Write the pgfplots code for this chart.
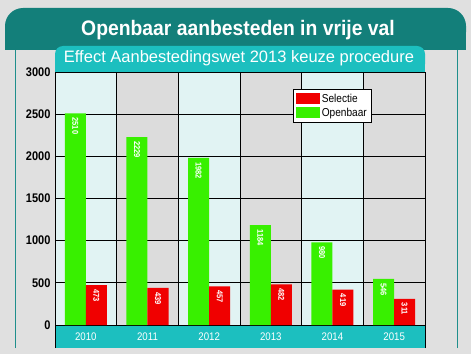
\documentclass[border=0pt]{standalone}
\usepackage{pgfplots}
\pgfplotsset{compat=1.18}
\usepackage{fontspec}
\setmainfont{Liberation Sans}
\newfontfamily\titlefont{Liberation Sans}[FakeStretch=0.92]
\newfontfamily\condfont{Liberation Sans}[FakeStretch=0.88]
\definecolor{bggray}{HTML}{E0E0E0}
\definecolor{dteal}{HTML}{137F7A}
\definecolor{cteal}{HTML}{1CBFBF}
\definecolor{lineteal}{HTML}{1F8F8C}
\definecolor{colA}{HTML}{E1F3F3}
\definecolor{colB}{HTML}{DCDCDC}
\definecolor{bgreen}{HTML}{38F000}
\definecolor{bred}{HTML}{F00000}
\begin{document}
\begin{tikzpicture}[x=1pt,y=1pt]
\fill[bggray] (0,0) rectangle (471,354);
\fill[dteal, rounded corners=18pt] (5,304) rectangle (466,346);
\fill[dteal] (5,304) rectangle (466,325);
\draw[lineteal, line width=1pt] (15,6) -- (15,304);
\draw[lineteal, line width=1pt] (457,6) -- (457,304);
\fill[cteal, rounded corners=8pt] (55,282) rectangle (425,308);
\fill[cteal] (55,282) rectangle (425,296);
\node[white, inner sep=0pt] at (238,324) {\titlefont\bfseries\fontsize{21}{21}\selectfont Openbaar aanbesteden in vrije val};
\node[white, inner sep=0pt] at (239,296) {\fontsize{16.5}{16.5}\selectfont Effect Aanbestedingswet 2013 keuze procedure};
\foreach \i in {0,2,4} {\fill[colA] ({55+61.667*\i},29) rectangle ({55+61.667*(\i+1)},282);}
\foreach \i in {1,3,5} {\fill[colB] ({55+61.667*\i},29) rectangle ({55+61.667*(\i+1)},282);}
\fill[cteal] (55,6) rectangle (425,29);
\draw[black, line width=0.9pt] (55,6) -- (55,29);
\draw[black, line width=0.9pt] (425,6) -- (425,29);
\begin{axis}[
  at={(55pt,29pt)}, anchor=south west,
  scale only axis, width=370pt, height=253pt,
  xmin=-0.5, xmax=5.5, ymin=0, ymax=3000,
  ybar=0pt, bar width=21pt,
  xtick={0,...,5}, xticklabels={2010,2011,2012,2013,2014,2015},
  minor xtick={0.5,1.5,2.5,3.5,4.5},
  xminorgrids, ymajorgrids,
  ytick={0,500,...,3000},
  major grid style={black, line width=0.9pt},
  minor grid style={black, line width=0.9pt},
  axis line style={black, line width=0.9pt},
  major tick length=0pt, minor tick length=0pt,
  /pgf/number format/assume math mode=true,
  /pgf/number format/1000 sep={},
  scaled y ticks=false,
  yticklabel style={font=\condfont\bfseries\fontsize{12.5}{12.5}\selectfont, black, xshift=-1pt},
  xticklabel style={font=\condfont\fontsize{11}{11}\selectfont, white, yshift=-4pt},
  nodes near coords,
  nodes near coords style={rotate=-90, anchor=west, white, inner xsep=4pt, font=\condfont\bfseries\fontsize{8.5}{8.5}\selectfont},
  reverse legend,
  legend image code/.code={\fill[#1, draw=none] (0pt,-5.5pt) rectangle (24pt,5.5pt);},
  legend style={at={(0.643,0.933)}, anchor=north west, draw=black, line width=0.8pt, fill=white,
    font=\condfont\fontsize{11.5}{11.5}\selectfont, inner xsep=3pt, inner ysep=3pt,
    nodes={inner sep=1.5pt}, row sep=1pt},
  legend cell align=left,
]
\addplot[fill=bgreen, draw=none] coordinates {(0,2510) (1,2229) (2,1982) (3,1184) (4,980) (5,546)};
\addplot[fill=bred, draw=none] coordinates {(0,473) (1,439) (2,457) (3,482) (4,419) (5,311)};
\legend{Openbaar, Selectie}
\end{axis}
\end{tikzpicture}
\end{document}
